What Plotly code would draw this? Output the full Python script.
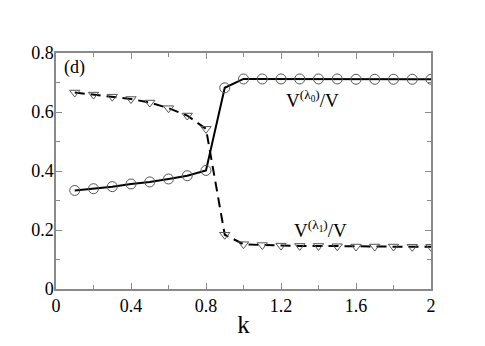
import plotly.graph_objects as go

k = [0.1, 0.2, 0.3, 0.4, 0.5, 0.6, 0.7, 0.8, 0.9, 1.0,
     1.1, 1.2, 1.3, 1.4, 1.5, 1.6, 1.7, 1.8, 1.9, 2.0]
v_lambda0 = [0.334, 0.340, 0.347, 0.356, 0.363, 0.373, 0.384, 0.402, 0.682, 0.712,
             0.712, 0.712, 0.712, 0.712, 0.712, 0.711, 0.711, 0.711, 0.711, 0.711]
v_lambda1 = [0.666, 0.659, 0.652, 0.644, 0.632, 0.613, 0.588, 0.543, 0.184, 0.152,
             0.149, 0.147, 0.146, 0.146, 0.145, 0.144, 0.144, 0.144, 0.143, 0.143]

font = "Liberation Serif"
axis_col = "#8a8a8a"

fig = go.Figure()
fig.add_trace(go.Scatter(
    x=k, y=v_lambda1, mode="lines+markers",
    line=dict(color="black", width=2, dash="10px,6px"),
    marker=dict(symbol="triangle-down-open", size=9, color="#555555", line=dict(width=1)),
))
fig.add_trace(go.Scatter(
    x=k, y=v_lambda0, mode="lines+markers",
    line=dict(color="black", width=2),
    marker=dict(symbol="circle-open", size=10, color="#555555", line=dict(width=1)),
))

fig.add_annotation(x=0.03, y=0.75, text="(d)", showarrow=False, xanchor="left",
                   font=dict(family=font, size=18, color="black"))
fig.add_annotation(x=1.37, y=0.643, text="V<sup>(λ<sub>0</sub>)</sup>/V", showarrow=False,
                   font=dict(family=font, size=19, color="black"))
fig.add_annotation(x=1.41, y=0.203, text="V<sup>(λ<sub>1</sub>)</sup>/V", showarrow=False,
                   font=dict(family=font, size=19, color="black"))

axis_common = dict(showgrid=False, zeroline=False, showline=True, mirror="ticks",
                   linecolor=axis_col, linewidth=1.5, ticks="inside", tickcolor=axis_col,
                   ticklen=6, tickfont=dict(family=font, size=18, color="black"))

fig.update_xaxes(range=[0, 2], dtick=0.4, tick0=0,
                 minor=dict(dtick=0.2, ticks="inside", ticklen=4, tickcolor=axis_col),
                 title=dict(text="k", font=dict(family=font, size=25, color="black"), standoff=0),
                 **axis_common)
fig.update_yaxes(range=[0, 0.8], dtick=0.2, tick0=0, ticklabelstandoff=-3,
                 minor=dict(dtick=0.1, ticks="inside", ticklen=4, tickcolor=axis_col),
                 **axis_common)

fig.update_layout(width=477, height=338, showlegend=False,
                  font=dict(family=font),
                  margin=dict(l=48, r=54, t=45, b=53),
                  plot_bgcolor="white", paper_bgcolor="white")

fig.write_html("out.html")
